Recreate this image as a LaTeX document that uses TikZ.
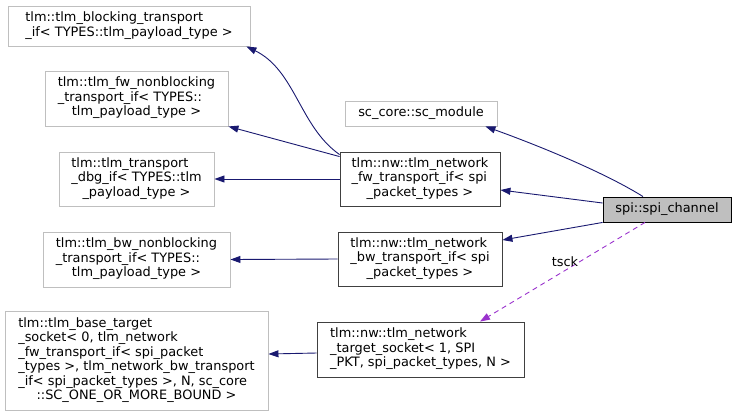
\documentclass[tikz,border=0pt]{standalone}
\usepackage{fontspec}
\setmainfont{DejaVu Sans}
\usepackage{tikz}
\usetikzlibrary{arrows.meta}
\usepackage{xcolor}
\definecolor{midnight}{HTML}{191970}
\definecolor{orchid}{HTML}{9A32CD}
\definecolor{greyext}{HTML}{BFBFBF}
\definecolor{greymem}{HTML}{404040}

% lines flush left, last line centred
\newcommand{\clslabel}[2]{\begin{tabular}{@{}l@{}}#1\\\multicolumn{1}{@{}c@{}}{#2}\end{tabular}}

\tikzset{
  cls/.style={rectangle, inner sep=0pt, line width=0.9pt,
    font=\fontsize{12.9}{14.5}\selectfont},
  extcls/.style={cls, draw=greyext, fill=white},
  memcls/.style={cls, draw=greymem, fill=white},
  focuscls/.style={cls, draw=black, fill=greyext},
  inherit/.style={draw=midnight, line width=0.9pt,
    -{Triangle[length=10pt,width=7pt]}},
  usage/.style={draw=orchid, line width=0.9pt, dash pattern=on 5pt off 4pt,
    -{Triangle[length=10pt,width=7pt]}}
}

\begin{document}
\begin{tikzpicture}[x=1pt, y=-1pt]
      \useasboundingbox (0,0) rectangle (736,416);
      \node[extcls, minimum width=242pt, minimum height=40pt] (blocking) at (129,26)
        {\clslabel{tlm::tlm\_blocking\_transport}{\_if< TYPES::tlm\_payload\_type >}};
      \node[extcls, minimum width=183pt, minimum height=55pt] (fwnonblocking) at (136.5,98.5)
        {\clslabel{tlm::tlm\_fw\_nonblocking\\\_transport\_if< TYPES::}{tlm\_payload\_type >}};
      \node[extcls, minimum width=155pt, minimum height=54pt] (transportdbg) at (136.5,179)
        {\clslabel{tlm::tlm\_transport\\\_dbg\_if< TYPES::tlm}{\_payload\_type >}};
      \node[extcls, minimum width=187pt, minimum height=55pt] (bwnonblocking) at (136.5,259.5)
        {\clslabel{tlm::tlm\_bw\_nonblocking\\\_transport\_if< TYPES::}{tlm\_payload\_type >}};
      \node[extcls, minimum width=263pt, minimum height=99pt] (basesocket) at (136.5,360.5)
        {\clslabel{tlm::tlm\_base\_target\\\_socket< 0, tlm\_network\\\_fw\_transport\_if< spi\_packet\\\_types >, tlm\_network\_bw\_transport\\\_if< spi\_packet\_types >, N, sc\_core}{::SC\_ONE\_OR\_MORE\_BOUND >}};
      \node[extcls, minimum width=152pt, minimum height=25pt] (scmodule) at (421,113.5)
        {sc\_core::sc\_module};
      \node[memcls, minimum width=160pt, minimum height=54pt] (fwtransport) at (420,179)
        {\clslabel{tlm::nw::tlm\_network\\\_fw\_transport\_if< spi}{\_packet\_types >}};
      \node[memcls, minimum width=164pt, minimum height=54pt] (bwtransport) at (420,259)
        {\clslabel{tlm::nw::tlm\_network\\\_bw\_transport\_if< spi}{\_packet\_types >}};
      \node[memcls, minimum width=207pt, minimum height=55pt] (targetsocket) at (420.5,349.5)
        {\clslabel{tlm::nw::tlm\_network\\\_target\_socket< 1, SPI}{\_PKT, spi\_packet\_types, N >}};
      \node[focuscls, minimum width=128pt, minimum height=25pt] (spichannel) at (667,209.5)
        {spi::spi\_channel};

      \draw[inherit] ([xshift=-24pt]spichannel.north)
        .. controls +(-40,-25) and +(50,18) .. ([xshift=-12pt]scmodule.south east);
      \draw[inherit] ([yshift=6.5pt]spichannel.west) -- ([yshift=-11pt]fwtransport.east);
      \draw[inherit] (spichannel.south west) -- ([yshift=19pt]bwtransport.east);
      \draw[usage] ([xshift=-22pt]spichannel.south) -- ([xshift=59.5pt]targetsocket.north)
        node[pos=0.485, above, inner sep=3pt, font=\fontsize{12.9}{14.5}\selectfont] (tscklabel) {tsck};
      \draw[inherit] ([yshift=-3pt]fwtransport.north west)
        .. controls +(-40,-28) and +(49,24) .. ([xshift=-4pt]blocking.south east);
      \draw[inherit] ([yshift=-5pt]fwtransport.north west) -- (fwnonblocking.south east);
      \draw[inherit] (fwtransport.west) -- (transportdbg.east);
      \draw[inherit] (bwtransport.west) -- (bwnonblocking.east);
      \draw[inherit] ([yshift=-3.5pt]targetsocket.west) -- ([yshift=6.5pt]basesocket.east);
    \end{tikzpicture}
\end{document}
